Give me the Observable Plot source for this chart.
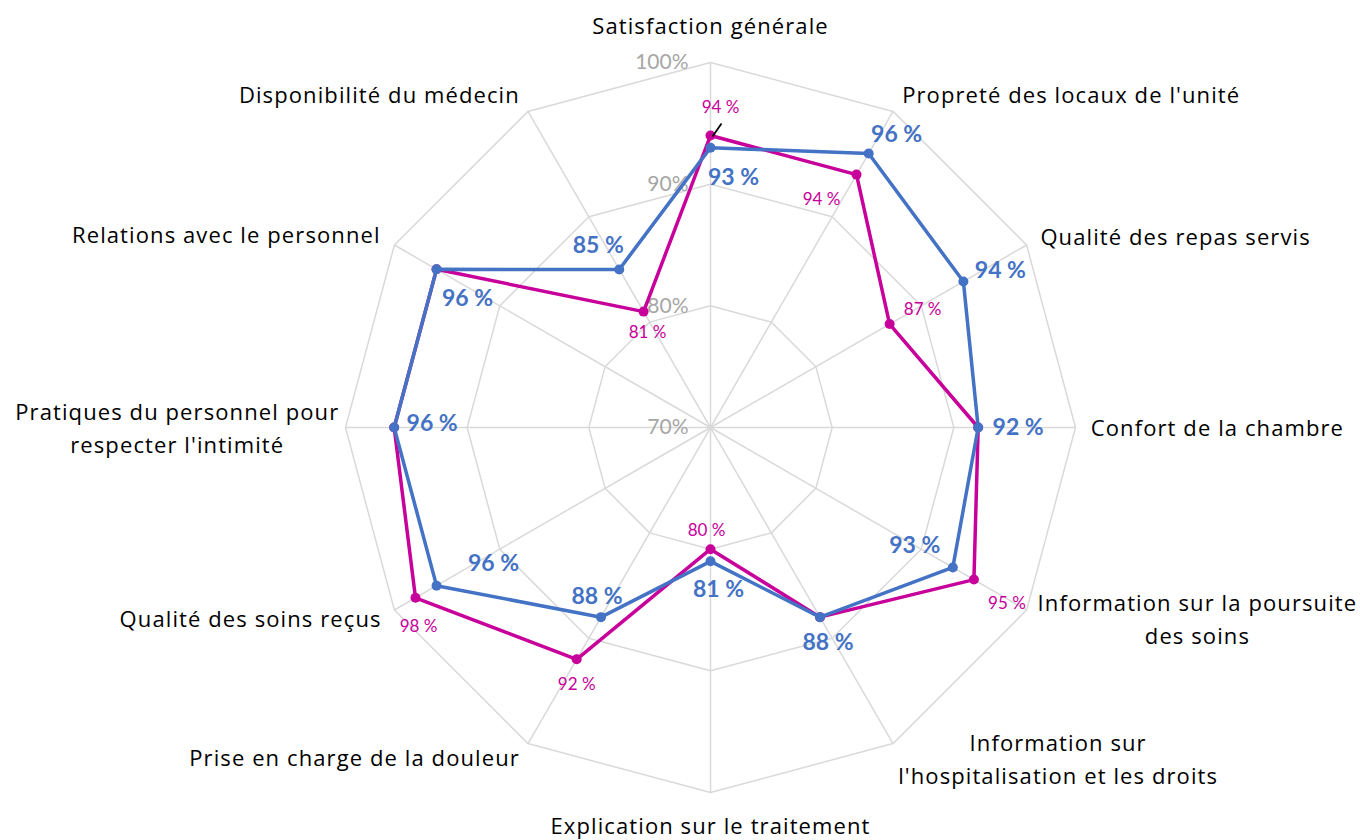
<!DOCTYPE html>
<html><head><meta charset="utf-8">
<script src="https://cdn.jsdelivr.net/npm/d3@7"></script>
<script src="https://cdn.jsdelivr.net/npm/@observablehq/plot@0.6"></script>
<style>body{margin:0;background:#fff;font-family:Lato,"Open Sans",sans-serif}</style>
</head><body><div id="chart"></div>
<script>
// ---- data ----
const categories = [
  "Satisfaction générale",
  "Propreté des locaux de l'unité",
  "Qualité des repas servis",
  "Confort de la chambre",
  "Information sur la poursuite\ndes soins",
  "Information sur\nl'hospitalisation et les droits",
  "Explication sur le traitement",
  "Prise en charge de la douleur",
  "Qualité des soins reçus",
  "Pratiques du personnel pour\nrespecter l'intimité",
  "Relations avec le personnel",
  "Disponibilité du médecin"
];
const seriesBlue = [93, 96, 94, 92, 93, 88, 81, 88, 96, 96, 96, 85];
const seriesMagenta = [94, 94, 87, 92, 95, 88, 80, 92, 98, 96, 96, 81];
const magentaLabelShown = [true, true, true, false, true, false, true, true, true, false, false, true];
const tickValues = [70, 80, 90, 100];
const gridLevels = [80, 90, 100];

// ---- layout (pixel offsets for labels) ----
const R = 365; // px radius of 100% ring
const CX = 710, CY = 427, W = 1360, H = 840;
const u = 1 / R;
const blueOff = [[23,30],[28,-19],[37,-11],[40,0],[-38,-22],[8,25],[8,28],[-4,-21],[57,-22],[38,-4],[31,29],[-21,-24]];
const magOff = [[10,-28],[-35,25],[33,-15],[0,0],[33,24],[0,0],[-4,-19],[0,25],[3,29],[0,0],[0,0],[4,21]];
const catLayout = [
  ["middle",0,-21],["start",0,-3],["start",-2,-1],["start",-3,-2],["middle",155,-2],["middle",156,-2],
  ["middle",0,13],["end",1,-4],["end",3,-3],["middle",-150,-2],["end",2,-3],["end",1,-3]
];

const n = categories.length;
const ang = i => i * 2 * Math.PI / n;
const rad = v => (v - 70) / 30;
const px = (i, r) => r * Math.sin(ang(i));
const py = (i, r) => r * Math.cos(ang(i));

const rings = gridLevels.flatMap(l => d3.range(n).map(i => ({level: l, x: px(i, rad(l)), y: py(i, rad(l))})));
const spokes = d3.range(n).map(i => ({x: px(i, 1), y: py(i, 1)}));
const mk = (arr, name) => arr.map((v, i) => ({i, v, name, x: px(i, rad(v)), y: py(i, rad(v))}));
const blue = mk(seriesBlue, "blue");
const mag = mk(seriesMagenta, "magenta");
const blueLabels = blue.map(d => ({...d, lx: d.x + blueOff[d.i][0]*u, ly: d.y - blueOff[d.i][1]*u}));
const magLabels = mag.filter(d => magentaLabelShown[d.i]).map(d => ({...d, lx: d.x + magOff[d.i][0]*u, ly: d.y - magOff[d.i][1]*u}));
const cats = categories.map((c, i) => ({c, i, anchor: catLayout[i][0],
  x: px(i, 1.05) + catLayout[i][1]*u, y: py(i, 1.05) - catLayout[i][2]*u}));
const tickData = tickValues.map(t => ({t, x: -22*u, y: rad(t)}));

const BLUE = "#4472C4", MAG = "#C8009B", GRID = "#D9D9D9", INK = "#000000";
const fmt = v => v + " %";

const plot = Plot.plot({
  width: W, height: H,
  margin: 0,
  x: {domain: [-CX/R, (W-CX)/R], range: [0, W], axis: null},
  y: {domain: [-(H-CY)/R, CY/R], range: [H, 0], axis: null},
  style: {fontFamily: "Lato, 'Open Sans', sans-serif", background: "#fff"},
  marks: [
    Plot.link(spokes, {x1: 0, y1: 0, x2: "x", y2: "y", stroke: GRID, strokeWidth: 1.5}),
    Plot.line(rings, {x: "x", y: "y", z: "level", curve: "linear-closed", stroke: GRID, strokeWidth: 1.5}),
    Plot.text(tickData, {x: "x", y: "y", text: d => d.t + "%", textAnchor: "end", fill: "#A6A6A6", fontSize: 21}),
    Plot.line(mag, {x: "x", y: "y", curve: "linear-closed", stroke: MAG, strokeWidth: 3.5}),
    Plot.dot(mag, {x: "x", y: "y", r: 5, fill: MAG}),
    Plot.line(blue, {x: "x", y: "y", curve: "linear-closed", stroke: BLUE, strokeWidth: 3.5}),
    Plot.dot(blue, {x: "x", y: "y", r: 5, fill: BLUE}),
    Plot.link(mag.filter(d => d.i === 0), {x1: d => d.x + 2*u, y1: d => d.y - 1*u, x2: d => d.x + 11*u, y2: d => d.y + 12*u, stroke: "#000", strokeWidth: 1.8}),
    Plot.text(blueLabels, {x: "lx", y: "ly", text: d => fmt(d.v), fill: BLUE, fontSize: 23, fontWeight: "bold"}),
    Plot.text(magLabels, {x: "lx", y: "ly", text: d => fmt(d.v), fill: MAG, fontSize: 17}),
    ...["start", "middle", "end"].map(a => Plot.text(cats.filter(d => d.anchor === a), {
      x: "x", y: "y", text: "c", textAnchor: a, lineAnchor: "middle", lineHeight: 1.5,
      fill: INK, fontSize: 22, fontFamily: "'Open Sans', sans-serif"
    }))
  ]
});
d3.select(plot).selectAll("g").filter(function() {
  return (this.getAttribute("font-family") || "").includes("Open Sans");
}).style("letter-spacing", "1.1px");
document.getElementById("chart").append(plot);
</script>
</body></html>
